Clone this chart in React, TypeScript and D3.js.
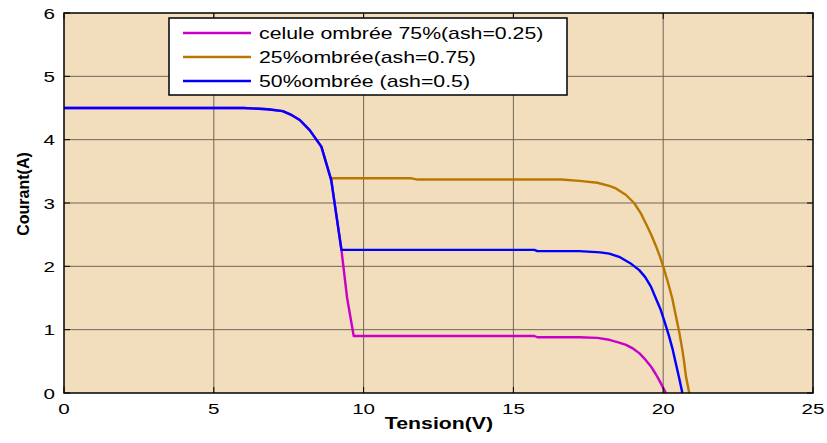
import React from "react";
import * as d3 from "d3";

const xTicks = [0, 5, 10, 15, 20, 25];
const yTicks = [0, 1, 2, 3, 4, 5, 6];

const seriesNames = [
  "celule ombrée 75%(ash=0.25)",
  "25%ombrée(ash=0.75)",
  "50%ombrée (ash=0.5)",
];
const seriesColors = ["#c800c8", "#b87800", "#0000ff"];

// Voltage (V), current (A)
const magentaV = [0, 6.0, 6.8, 7.3, 7.55, 7.87, 8.2, 8.59, 8.92, 9.26, 9.45, 9.67, 15.7, 15.8, 17.2, 17.8, 18.2, 18.5, 18.76, 19.0, 19.2, 19.4, 19.59, 19.75, 19.87, 19.98, 20.09];
const magentaI = [4.5, 4.5, 4.48, 4.45, 4.4, 4.31, 4.15, 3.89, 3.36, 2.26, 1.5, 0.9, 0.9, 0.88, 0.88, 0.87, 0.84, 0.8, 0.76, 0.7, 0.63, 0.53, 0.42, 0.3, 0.2, 0.1, 0];

const orangeV = [8.92, 11.6, 11.8, 16.6, 17.2, 17.8, 18.2, 18.42, 18.75, 19.03, 19.25, 19.45, 19.6, 19.75, 19.88, 20.0, 20.15, 20.3, 20.43, 20.54, 20.64, 20.71, 20.76, 20.82, 20.87];
const orangeI = [3.39, 3.39, 3.37, 3.37, 3.35, 3.32, 3.27, 3.23, 3.13, 3.0, 2.84, 2.65, 2.5, 2.33, 2.17, 2.0, 1.76, 1.5, 1.2, 0.95, 0.68, 0.45, 0.26, 0.12, 0];

const blueV = [0, 6.0, 6.8, 7.3, 7.55, 7.87, 8.2, 8.59, 8.92, 9.26, 15.7, 15.8, 17.2, 17.9, 18.2, 18.53, 18.9, 19.2, 19.4, 19.59, 19.75, 19.92, 20.05, 20.2, 20.32, 20.42, 20.54, 20.64];
const blueI = [4.5, 4.5, 4.48, 4.45, 4.4, 4.31, 4.15, 3.89, 3.36, 2.26, 2.26, 2.24, 2.24, 2.22, 2.2, 2.15, 2.05, 1.94, 1.83, 1.68, 1.5, 1.31, 1.12, 0.89, 0.68, 0.47, 0.22, 0];

const W = 827;
const H = 443;
const L = 64, T = 13, R = 813, B = 393;
const SX = 1.33;

function SText(props: {
  x: number;
  y: number;
  size: number;
  anchor?: "start" | "middle" | "end";
  bold?: boolean;
  children: React.ReactNode;
}) {
  return (
    <text
      transform={`translate(${props.x},${props.y}) scale(${SX},1)`}
      textAnchor={props.anchor || "start"}
      fontSize={props.size}
      fontWeight={props.bold ? "bold" : "normal"}
    >
      {props.children}
    </text>
  );
}

export default function App() {
  const x = d3.scaleLinear().domain([0, 25]).range([L, R]);
  const y = d3.scaleLinear().domain([0, 6]).range([B, T]);
  const line = d3
    .line<[number, number]>()
    .x((d) => x(d[0]))
    .y((d) => y(d[1]));

  const zip = (a: number[], b: number[]) => a.map((v, i) => [v, b[i]] as [number, number]);
  const series = [zip(magentaV, magentaI), zip(orangeV, orangeI), zip(blueV, blueI)];
  const drawOrder = [1, 0, 2];

  const font = "Liberation Sans, Arial, sans-serif";

  return (
    <svg
      width={W}
      height={H}
      style={{ position: "absolute", left: 0, top: 0, background: "#fff" }}
      fontFamily={font}
    >
      <rect x={L} y={T} width={R - L} height={B - T} fill="#f2ddbc" />
      {xTicks.slice(1, -1).map((t) => (
        <line key={"gx" + t} x1={x(t)} x2={x(t)} y1={T} y2={B} stroke="#6e6658" strokeWidth={1} />
      ))}
      {yTicks.slice(1, -1).map((t) => (
        <line key={"gy" + t} x1={L} x2={R} y1={y(t)} y2={y(t)} stroke="#6e6658" strokeWidth={1} />
      ))}
      {drawOrder.map((i) => (
        <path
          key={"s" + i}
          d={line(series[i]) as string}
          fill="none"
          stroke={seriesColors[i]}
          strokeWidth={2.4}
          strokeLinejoin="round"
        />
      ))}
      {xTicks.map((t) => (
        <g key={"tx" + t}>
          <line x1={x(t)} x2={x(t)} y1={B} y2={B - 6} stroke="#000" />
          <line x1={x(t)} x2={x(t)} y1={T} y2={T + 6} stroke="#000" />
          <SText x={x(t)} y={414} size={15.5} anchor="middle">
            {t}
          </SText>
        </g>
      ))}
      {yTicks.map((t) => (
        <g key={"ty" + t}>
          <line x1={L} x2={L + 6} y1={y(t)} y2={y(t)} stroke="#000" />
          <line x1={R} x2={R - 6} y1={y(t)} y2={y(t)} stroke="#000" />
          <SText x={55} y={y(t) + 5.5} size={15.5} anchor="end">
            {t}
          </SText>
        </g>
      ))}
      <rect x={L} y={T} width={R - L} height={B - T} fill="none" stroke="#000" strokeWidth={1.5} />
      <rect x={169} y={18} width={398} height={77} fill="#fff" stroke="#000" strokeWidth={1.5} />
      {seriesNames.map((n, i) => (
        <g key={"lg" + i}>
          <line x1={183} x2={251} y1={33 + i * 24} y2={33 + i * 24} stroke={seriesColors[i]} strokeWidth={2.4} />
          <SText x={259} y={39 + i * 24} size={16}>
            {n}
          </SText>
        </g>
      ))}
      <SText x={439} y={429} size={16} anchor="middle" bold>
        Tension(V)
      </SText>
      <text
        transform={`translate(28.5,194) rotate(-90)`}
        textAnchor="middle"
        fontSize={16}
        fontWeight="bold"
      >
        Courant(A)
      </text>
    </svg>
  );
}
